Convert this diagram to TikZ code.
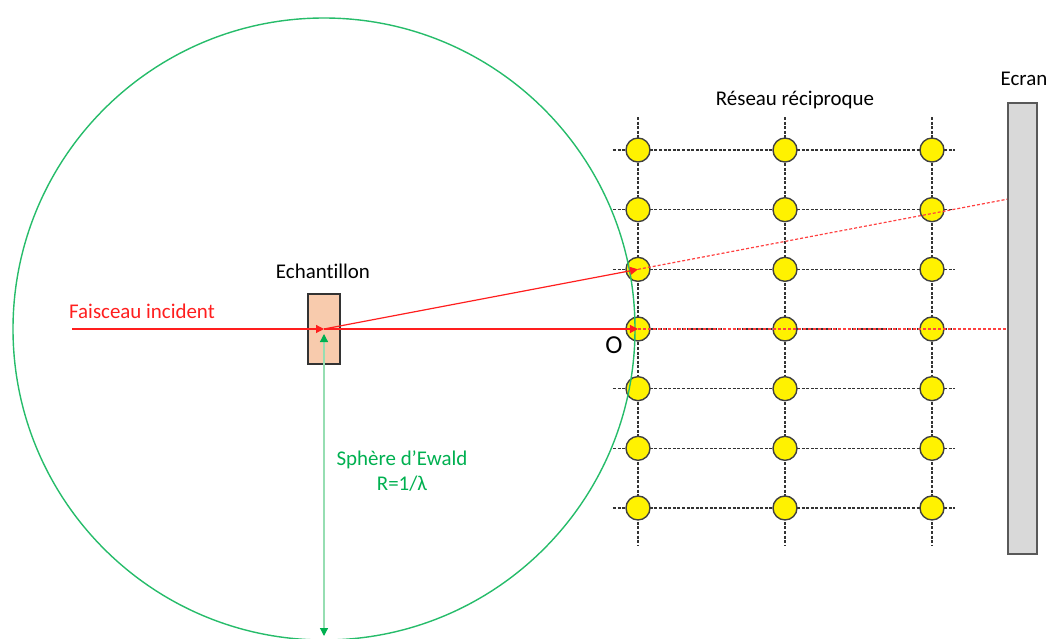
\documentclass[tikz,border=0pt]{standalone}
\usepackage{fontspec}
\setmainfont{Carlito}[Ligatures={NoCommon}]
\usetikzlibrary{arrows.meta,positioning,matrix,backgrounds}
\definecolor{rouge}{RGB}{255,30,30}
\definecolor{vert}{RGB}{0,176,80}
\definecolor{vertclair}{RGB}{150,222,178}
\definecolor{peche}{RGB}{248,203,173}
\definecolor{grisecran}{RGB}{217,217,217}
\tikzset{
  noeud/.style={circle,draw=black!75,fill=yellow,line width=0.7bp,minimum size=12bp,inner sep=0pt},
  grille/.style={black!80,line width=0.55bp,dash pattern=on 1.5bp off 0.8bp},
  faisceau/.style={rouge,line width=0.6bp,-{Triangle[length=4bp,width=4bp]}},
  diffracte/.style={rouge!85,line width=0.6bp,dash pattern=on 1.5bp off 1bp},
  echant/.style={draw=black!80,fill=peche,line width=0.6bp,minimum width=16bp,minimum height=35bp,inner sep=0pt},
  ecranbox/.style={draw=black!65,fill=grisecran,line width=0.9bp,minimum width=14.5bp,minimum height=225.5bp,inner sep=0pt},
  sphere/.style={vert!85,line width=0.7bp},
  rayon/.style={vertclair,line width=0.6bp,{Triangle[length=4bp,width=4bp,color=vert]}-{Triangle[length=4bp,width=4bp,color=vert]}}
}

\begin{document}
\begin{tikzpicture}[x=0.5bp,y=-0.5bp,ampersand replacement=\&,
  every node/.style={font=\fontsize{10.5}{12.6}\selectfont}]
\useasboundingbox (0,0) rectangle (1047,639);

\matrix (m) [matrix of nodes,nodes in empty cells,nodes={noeud},
  row sep={29.83bp,between origins},column sep={73.5bp,between origins}] at (785,329)
{ \& \& \\
  \& \& \\
  \& \& \\
  \& \& \\
  \& \& \\
  \& \& \\
  \& \& \\
};

\begin{scope}[on background layer]
\foreach \i in {1,...,7}
  \draw[grille] ([xshift=-12.5bp]m-\i-1.center) -- ([xshift=11.5bp]m-\i-3.center);
\foreach \j in {1,2,3}
  \draw[grille] ([yshift=16.5bp]m-1-\j.center) -- ([yshift=-18.5bp]m-7-\j.center);
\end{scope}

\node[echant] (ech) at (324,329) {};
\node[ecranbox] (ecr) at (1022.5,328.5) {};

\node (lech) at (323,271) {Echantillon};
\node (lecr) at (1024,79) {Ecran};
\node (lres) at (795,100) {Réseau réciproque};
\node[rouge] (lfai) at (142,311) {Faisceau incident};
\node[font=\fontsize{13}{15}\selectfont] (lo) at (614,345) {O};
\node[vert,align=center] (lsph) at (402,471) {Sphère d’Ewald\\R=1/λ};

\coordinate (src) at (72,329);
\coordinate (bas) at (324,636);

\draw[sphere] (ech.center) circle[radius=311];
\draw[rayon,shorten <=2.5bp] (ech.center) -- (bas);

\draw[faisceau] (src) -- (ech.center);
\draw[faisceau] (ech.center) -- (m-4-1.center);
\draw[faisceau] (ech.center) -- (m-3-1.center);
\draw[diffracte] (m-4-1.center) -- (ecr.west |- m-4-1.center);
\draw[diffracte] (m-3-1.center) -- (intersection of ech.center--m-3-1.center and ecr.north west--ecr.south west);
\end{tikzpicture}
\end{document}
